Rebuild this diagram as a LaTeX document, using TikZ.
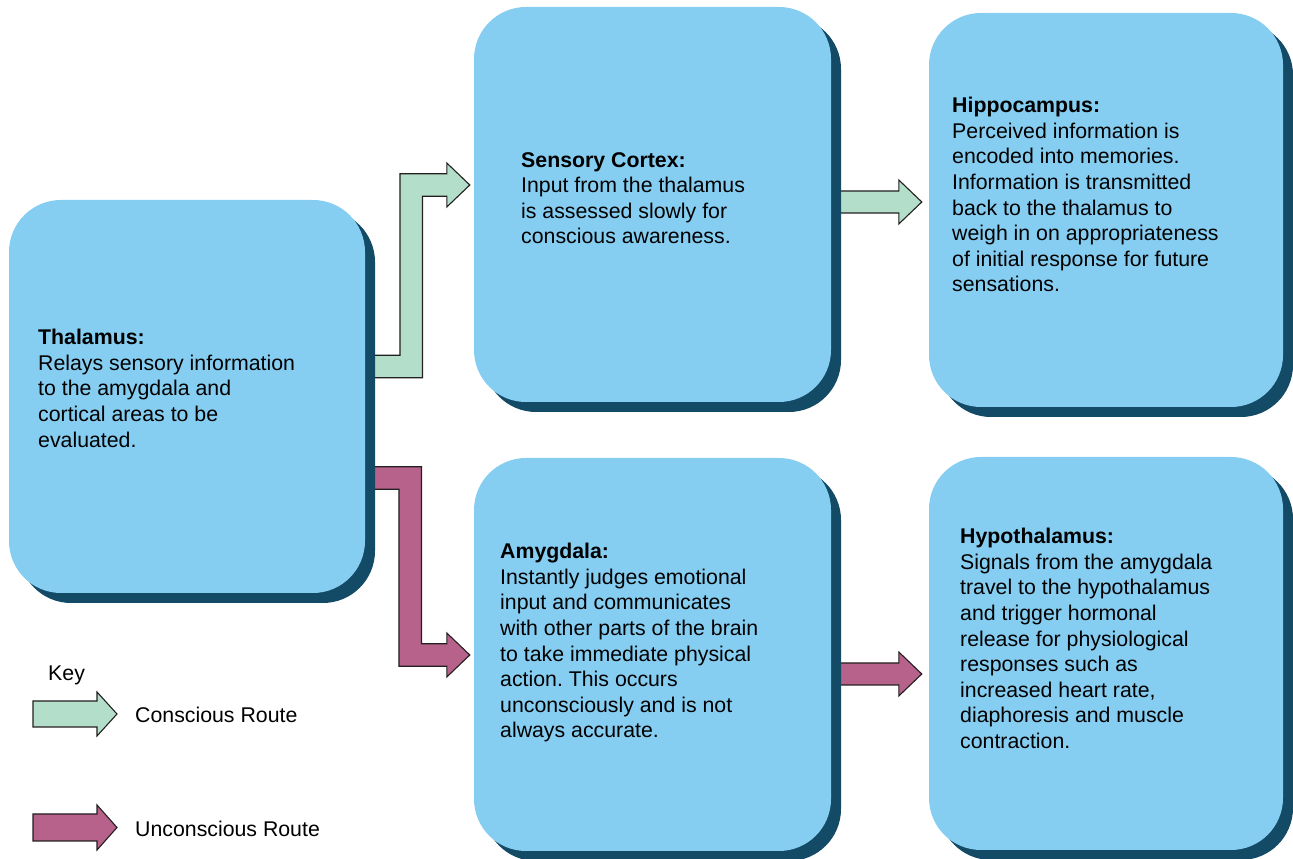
\documentclass[tikz,border=0pt]{standalone}
\usepackage{fontspec}
\setmainfont{Liberation Sans}
\usetikzlibrary{shadows,calc}
\frenchspacing

\definecolor{boxblue}{HTML}{85CEF2}
\definecolor{boxshade}{HTML}{134A66}
\definecolor{consc}{HTML}{B3DEC9}
\definecolor{unconsc}{HTML}{B6628A}
\definecolor{edgeline}{HTML}{231F20}

\pgfdeclarelayer{background}
\pgfsetlayers{background,main}

% straight block arrow: #1 style, #2 start, #3 tip, #4 half shaft, #5 half head, #6 head length
\newcommand{\blockarrow}[6]{%
  \path[#1] let \p1=(#2), \p2=(#3) in
    (\x1,\y1+#4pt) -- (\x2-#6pt,\y1+#4pt) -- (\x2-#6pt,\y1+#5pt) -- (\x2,\y1)
    -- (\x2-#6pt,\y1-#5pt) -- (\x2-#6pt,\y1-#4pt) -- (\x1,\y1-#4pt) -- cycle;}

% elbow block arrow: #1 style, #2 start, #3 bend offset, #4 tip, #5 direction (1 up, -1 down)
\newcommand{\elbowarrow}[5]{%
  \path[#1] let \p1=(#2), \p2=(#4), \n1={#3}, \n2={#5} in
    (\x1,\y1-\n2*11.25pt) -- (\x1+\n1*1pt+11.25pt,\y1-\n2*11.25pt)
    -- (\x1+\n1*1pt+11.25pt,\y2-\n2*11.25pt) -- (\x2-23pt,\y2-\n2*11.25pt)
    -- (\x2-23pt,\y2-\n2*22pt) -- (\x2,\y2) -- (\x2-23pt,\y2+\n2*22pt)
    -- (\x2-23pt,\y2+\n2*11.25pt) -- (\x1+\n1*1pt-11.25pt,\y2+\n2*11.25pt)
    -- (\x1+\n1*1pt-11.25pt,\y1+\n2*11.25pt) -- (\x1,\y1+\n2*11.25pt) -- cycle;}

\begin{document}
\begin{tikzpicture}[x=1pt,y=1pt,
  region/.style={rectangle, rounded corners=52pt, fill=boxblue, draw=none,
    inner sep=0pt,
    drop shadow={shadow xshift=10pt, shadow yshift=-10pt, fill=boxshade, opacity=1}},
  blurb/.style={anchor=north west, align=left, inner sep=0pt,
    font=\fontsize{21.3}{25.6}\selectfont},
  keytext/.style={anchor=west, inner sep=0pt, font=\fontsize{21.3}{25.6}\selectfont},
  conscarrow/.style={fill=consc, draw=edgeline, line width=1.1pt, line join=miter},
  unconscarrow/.style={fill=unconsc, draw=edgeline, line width=1.1pt, line join=miter}]

\useasboundingbox (0,0) rectangle (1293,859);

% brain regions
\node[region, minimum width=356pt, minimum height=393pt] (thal)  at (187,462.5) {};
\node[region, minimum width=357pt, minimum height=395pt] (cortex) at (652.5,654.5) {};
\node[region, minimum width=354pt, minimum height=394pt] (hippo) at (1106,649) {};
\node[region, minimum width=357pt, minimum height=393pt] (amyg)  at (652.5,204.5) {};
\node[region, minimum width=354pt, minimum height=393pt] (hypo)  at (1106,205.5) {};

% descriptions
\node[blurb] (thaltext) at (38,530) {\textbf{Thalamus:}\\Relays sensory information\\to the amygdala and\\cortical areas to be\\evaluated.};
\node[blurb] (cortextext) at (521,707) {\textbf{Sensory Cortex:}\\Input from the thalamus\\is assessed slowly for\\conscious awareness.};
\node[blurb] (hippotext) at (952,762) {\textbf{Hippocampus:}\\Perceived information is\\encoded into memories.\\Information is transmitted\\back to the thalamus to\\weigh in on appropriateness\\of initial response for future\\sensations.};
\node[blurb] (amygtext) at (500,316) {\textbf{Amygdala:}\\Instantly judges emotional\\input and communicates\\with other parts of the brain\\to take immediate physical\\action. This occurs\\unconsciously and is not\\always accurate.};
\node[blurb] (hypotext) at (960,331) {\textbf{Hypothalamus:}\\Signals from the amygdala\\travel to the hypothalamus\\and trigger hormonal\\release for physiological\\responses such as\\increased heart rate,\\diaphoresis and muscle\\contraction.};

% key
\node[keytext] (keylabel) at (48,184) {Key};
\node[keytext] (conslabel) at (135,144) {Conscious Route};
\node[keytext] (unconslabel) at (135,30) {Unconscious Route};

% arrow end points
\coordinate (cs) at ($(thal.east)+(5,30)$);
\coordinate (ct) at ($(cortex.west)+(-4,19.5)$);
\coordinate (us) at ($(thal.east)+(5,-81.5)$);
\coordinate (ut) at ($(amyg.west)+(-4,-0.5)$);
\coordinate (chs) at ($(cortex.east)+(4,2.5)$);
\coordinate (cht) at ($(hippo.west)+(-7,8)$);
\coordinate (ahs) at ($(amyg.east)+(4,-19.5)$);
\coordinate (aht) at ($(hypo.west)+(-7,-20.5)$);
\coordinate (kct) at ($(conslabel.west)+(-18,1)$);
\coordinate (kcs) at ($(kct)+(-84,0)$);
\coordinate (kut) at ($(unconslabel.west)+(-18,1.5)$);
\coordinate (kus) at ($(kut)+(-84,0)$);

\begin{pgfonlayer}{background}
  \elbowarrow{conscarrow}{cs}{41}{ct}{1}
  \elbowarrow{unconscarrow}{us}{40}{ut}{-1}
  \blockarrow{conscarrow}{chs}{cht}{11}{22}{23}
  \blockarrow{unconscarrow}{ahs}{aht}{11}{22}{23}
\end{pgfonlayer}

\blockarrow{conscarrow}{kcs}{kct}{13}{22}{20}
\blockarrow{unconscarrow}{kus}{kut}{13.5}{22.5}{20}

\end{tikzpicture}
\end{document}
